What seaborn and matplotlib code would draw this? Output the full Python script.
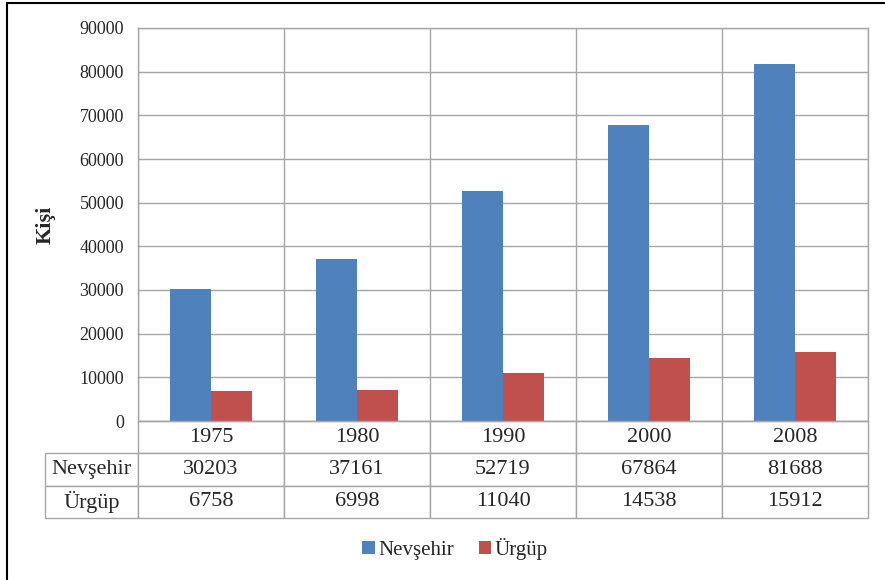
import pandas as pd
import numpy as np
import matplotlib
matplotlib.use("Agg")
import matplotlib.pyplot as plt
import seaborn as sns
from matplotlib.lines import Line2D

# data
years = ["1975", "1980", "1990", "2000", "2008"]
nevsehir = [30203, 37161, 52719, 67864, 81688]
urgup = [6758, 6998, 11040, 14538, 15912]
series_names = ["Nevşehir", "Ürgüp"]
colors = ["#4F81BD", "#C0504D"]
yticks = [0, 10000, 20000, 30000, 40000, 50000, 60000, 70000, 80000, 90000]

df = pd.DataFrame({
    "yil": years * 2,
    "sehir": [series_names[0]] * len(years) + [series_names[1]] * len(years),
    "kisi": nevsehir + urgup,
})

sns.set_style("white")
plt.rcParams["font.family"] = ["Liberation Serif", "DejaVu Serif"]
grid_c = "#a6a6a6"

fig = plt.figure(figsize=(8.85, 5.8), dpi=100)
ax = fig.add_axes([138/885, 1-421/580, 730/885, 393/580])

sns.barplot(data=df, x="yil", y="kisi", hue="sehir", palette=colors,
            width=0.56, saturation=1, linewidth=0, ax=ax)

ax.set_xlim(-0.5, len(years) - 0.5)
ax.set_ylim(0, 90000)
ax.set_yticks(yticks)
ax.set_yticklabels([str(v) for v in yticks], fontsize=13)
ax.set_xticks([])
ax.set_xticks(np.arange(len(years) + 1) - 0.5, minor=True)
ax.tick_params(axis="x", which="minor", length=0)
ax.tick_params(axis="y", length=5, color=grid_c, pad=5)
ax.grid(True, axis="y", color=grid_c, lw=1)
ax.grid(True, axis="x", which="minor", color=grid_c, lw=1)
ax.set_axisbelow(True)
for s in ax.spines.values():
    s.set_color(grid_c)
    s.set_linewidth(1)
ax.set_xlabel("")
ax.set_ylabel("Kişi", fontsize=16, fontweight="bold")
ax.yaxis.set_label_coords(-0.113, 0.5)

# data table below the plot area, first column holds the series names
lab_w = 93 / 730
rows = [[series_names[0]] + [str(v) for v in nevsehir],
        [series_names[1]] + [str(v) for v in urgup]]
tbl = ax.table(cellText=rows, colLabels=[""] + years,
               colWidths=[lab_w] + [1 / len(years)] * len(years),
               cellLoc="center",
               bbox=[-lab_w, -97/393, 1 + lab_w, 97/393])
tbl.auto_set_font_size(False)
tbl.set_fontsize(16)
for (r, c), cell in tbl.get_celld().items():
    cell.set_edgecolor(grid_c)
    cell.set_linewidth(1)
    if c == 0:
        cell._loc = "left"
        cell.PAD = 0.01
        if r == 0:
            cell.visible_edges = ""

h, l = ax.get_legend_handles_labels()
ax.get_legend().remove()
fig.legend(h, l, loc="center", bbox_to_anchor=(455/885, 1-549/580), ncol=2,
           frameon=False, fontsize=15, handlelength=0.6, handleheight=0.6,
           handletextpad=0.15, columnspacing=1.2)

# outer frame (top and left visible)
fig.add_artist(Line2D([7/885, 1], [1-3/580, 1-3/580], color="black", lw=1.5))
fig.add_artist(Line2D([7/885, 7/885], [0, 1-3/580], color="black", lw=1.5))

fig.savefig("out.png", dpi=100)
